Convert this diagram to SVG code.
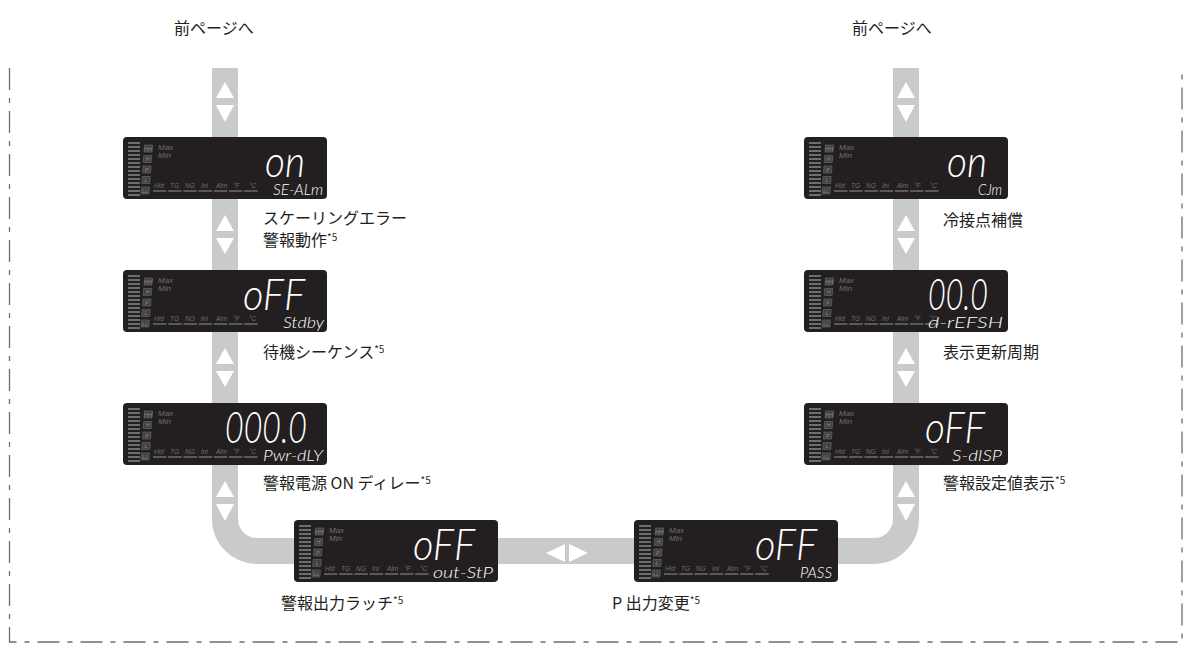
<svg xmlns="http://www.w3.org/2000/svg" xmlns:xlink="http://www.w3.org/1999/xlink" width="1184" height="652" viewBox="0 0 1184 652">
<style>
.lbl{font-family:"Noto Sans CJK JP","Noto Sans",sans-serif;font-size:16px;fill:#231f20}
.sup{font-size:10px}
.big{font-family:Lato,"Liberation Sans",sans-serif;font-style:italic;font-weight:300;font-size:44px;fill:#ffffff;text-anchor:end}
.sm{font-family:Lato,"Liberation Sans",sans-serif;font-style:italic;font-weight:300;font-size:15px;fill:#ffffff;text-anchor:end}
.tiny{font-family:"Liberation Sans",Arial,sans-serif;font-style:italic;font-size:6.5px;fill:#6d6e70}
.mm{font-family:"Liberation Sans",Arial,sans-serif;font-style:italic;font-size:8px;fill:#6d6e70}
.bx{fill:#414042;stroke:#6d6e70;stroke-width:0.6}
.bxt{font-family:"Liberation Sans",Arial,sans-serif;font-style:italic;font-size:5.5px;fill:#8a8b8d;text-anchor:middle}
.band{fill:none;stroke:#c9caca;stroke-width:26}
.tri{fill:#ffffff}
.border{fill:none;stroke:#6d6e70;stroke-width:1.3;stroke-dasharray:22 8 5 8}
</style>
<defs>
<g id="lcd">
<rect width="204" height="62" rx="4" fill="#231f20"/>
<path d="M5,6h12M5,10h12M5,14h12M5,18h12M5,22h12M5,26h12M5,30h12M5,34h12M5,38h12M5,42h12M5,46h12M5,50h12M5,54h12M5,58h12" stroke="#6d6e70" stroke-width="2"/>
<polygon class="bx" points="21.5,8 29.5,8 29,15 21,15"/>
<polygon class="bx" points="20.7,18.5 28.7,18.5 28.2,25.5 20.2,25.5"/>
<polygon class="bx" points="20,29 28,29 27.5,36 19.5,36"/>
<polygon class="bx" points="19.2,39.5 27.2,39.5 26.7,46.5 18.7,46.5"/>
<polygon class="bx" points="18.4,50 26.4,50 25.9,57 17.9,57"/>
<text class="bxt" x="25.3" y="13.6">HH</text>
<text class="bxt" x="24.5" y="24.1">H</text>
<text class="bxt" x="23.8" y="34.6">P</text>
<text class="bxt" x="23" y="45.1">L</text>
<text class="bxt" x="22.2" y="55.6">LL</text>
<text class="mm" x="35" y="12.5">Max</text>
<text class="mm" x="35" y="21">Min</text>
<text class="tiny" x="31" y="51">Hld</text>
<text class="tiny" x="47" y="51">TG</text>
<text class="tiny" x="62" y="51">NG</text>
<text class="tiny" x="78" y="51">Ini</text>
<text class="tiny" x="93" y="51">Alm</text>
<text class="tiny" x="110" y="51">°F</text>
<text class="tiny" x="126" y="51">°C</text>
<path d="M30,54h13.5M45.2,54h13.5M60.4,54h13.5M75.6,54h13.5M90.8,54h13.5M106,54h13.5M121.2,54h13.5" stroke="#58595b" stroke-width="2"/>
</g>
</defs>
<rect width="1184" height="652" fill="#ffffff"/>
<path class="border" d="M9.5,68 V642 H1182 V68"/>
<g id="connectors">
<path class="band" d="M225,68 V519 A32,32 0 0 0 257,551 H874 A32,32 0 0 0 906,519 V68"/>
<g class="tri">
<polygon points="225,82 216,98 234,98"/><polygon points="216,105 234,105 225,122"/>
<polygon points="225,215 216,231 234,231"/><polygon points="216,238 234,238 225,254"/>
<polygon points="225,348 216,364 234,364"/><polygon points="216,371 234,371 225,387"/>
<polygon points="225,481 216,497 234,497"/><polygon points="216,504 234,504 225,521"/>
<polygon points="906,82 897,98 915,98"/><polygon points="897,105 915,105 906,122"/>
<polygon points="906,215 897,231 915,231"/><polygon points="897,238 915,238 906,254"/>
<polygon points="906,348 897,364 915,364"/><polygon points="897,371 915,371 906,387"/>
<polygon points="906,481 897,497 915,497"/><polygon points="897,504 915,504 906,521"/>
<polygon points="546,553 565,544 565,562"/><polygon points="569,544 588,553 569,562"/>
</g>
</g>
<g id="prev-left"><text class="lbl" x="174" y="34">前ページへ</text></g>
<g id="prev-right"><text class="lbl" x="852" y="34">前ページへ</text></g>
<g id="node-se-alm" transform="translate(123,137)">
<use xlink:href="#lcd"/>
<text class="big" x="182" y="40" textLength="40" lengthAdjust="spacingAndGlyphs">on</text>
<text class="sm" x="200" y="58" textLength="50" lengthAdjust="spacingAndGlyphs">SE-ALm</text>
<text class="lbl" x="140" y="87">スケーリングエラー</text>
<text class="lbl" x="140" y="109">警報動作<tspan class="sup" dy="-5">*5</tspan></text>
</g>
<g id="node-stdby" transform="translate(123,270)">
<use xlink:href="#lcd"/>
<text class="big" x="182" y="40" textLength="62" lengthAdjust="spacingAndGlyphs">oFF</text>
<text class="sm" x="201" y="58" textLength="41" lengthAdjust="spacingAndGlyphs">Stdby</text>
<text class="lbl" x="140" y="88">待機シーケンス<tspan class="sup" dy="-5">*5</tspan></text>
</g>
<g id="node-pwr-dly" transform="translate(123,403)">
<use xlink:href="#lcd"/>
<text class="big" x="184" y="40" textLength="82" lengthAdjust="spacingAndGlyphs">000.0</text>
<text class="sm" x="200" y="58" textLength="60" lengthAdjust="spacingAndGlyphs">Pwr-dLY</text>
<text class="lbl" x="140" y="86">警報電源 ON ディレー<tspan class="sup" dy="-5">*5</tspan></text>
</g>
<g id="node-out-stp" transform="translate(294,520)">
<use xlink:href="#lcd"/>
<text class="big" x="181" y="40" textLength="62" lengthAdjust="spacingAndGlyphs">oFF</text>
<text class="sm" x="199" y="58" textLength="60" lengthAdjust="spacingAndGlyphs">out-StP</text>
<text class="lbl" x="-13" y="89">警報出力ラッチ<tspan class="sup" dy="-5">*5</tspan></text>
</g>
<g id="node-pass" transform="translate(634,520)">
<use xlink:href="#lcd"/>
<text class="big" x="183" y="40" textLength="62" lengthAdjust="spacingAndGlyphs">oFF</text>
<text class="sm" x="198" y="58" textLength="32" lengthAdjust="spacingAndGlyphs">PASS</text>
<text class="lbl" x="-22" y="89">P 出力変更<tspan class="sup" dy="-5">*5</tspan></text>
</g>
<g id="node-cjm" transform="translate(804,137)">
<use xlink:href="#lcd"/>
<text class="big" x="183" y="40" textLength="40" lengthAdjust="spacingAndGlyphs">on</text>
<text class="sm" x="198" y="58" textLength="24" lengthAdjust="spacingAndGlyphs">CJm</text>
<text class="lbl" x="139" y="89">冷接点補償</text>
</g>
<g id="node-d-refsh" transform="translate(804,270)">
<use xlink:href="#lcd"/>
<text class="big" x="184" y="40" textLength="60" lengthAdjust="spacingAndGlyphs">00.0</text>
<text class="sm" x="199" y="58" textLength="75" lengthAdjust="spacingAndGlyphs">d-rEFSH</text>
<text class="lbl" x="139" y="88">表示更新周期</text>
</g>
<g id="node-s-disp" transform="translate(804,403)">
<use xlink:href="#lcd"/>
<text class="big" x="181" y="40" textLength="60" lengthAdjust="spacingAndGlyphs">oFF</text>
<text class="sm" x="198" y="58" textLength="50" lengthAdjust="spacingAndGlyphs">S-dISP</text>
<text class="lbl" x="139" y="86">警報設定値表示<tspan class="sup" dy="-5">*5</tspan></text>
</g>
</svg>
